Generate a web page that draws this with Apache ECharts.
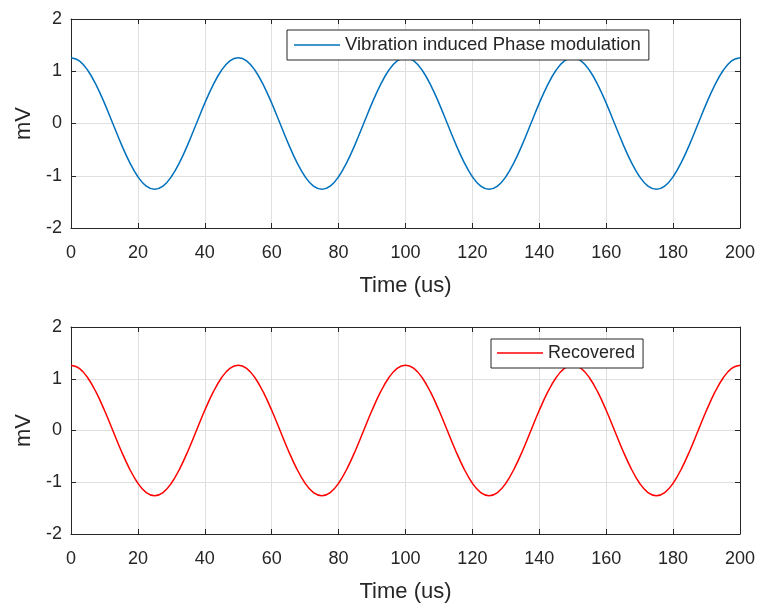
<!DOCTYPE html>
<html>
<head>
<meta charset="utf-8">
<script src="https://cdn.jsdelivr.net/npm/echarts@6/dist/echarts.min.js"></script>
<style>
html,body{margin:0;padding:0;background:#fff;}
#chart{width:758px;height:604px;}
</style>
</head>
<body>
<div id="chart"></div>
<script>
var timeUs = [0,2.5,5,7.5,10,12.5,15,17.5,20,22.5,25,27.5,30,32.5,35,37.5,40,42.5,45,47.5,
  50,52.5,55,57.5,60,62.5,65,67.5,70,72.5,75,77.5,80,82.5,85,87.5,90,92.5,95,97.5,
  100,102.5,105,107.5,110,112.5,115,117.5,120,122.5,125,127.5,130,132.5,135,137.5,140,142.5,145,147.5,
  150,152.5,155,157.5,160,162.5,165,167.5,170,172.5,175,177.5,180,182.5,185,187.5,190,192.5,195,197.5,200];

var vibration = [1.26,1.20,1.02,0.74,0.39,0.00,-0.39,-0.74,-1.02,-1.20,-1.26,-1.20,-1.02,-0.74,-0.39,0.00,0.39,0.74,1.02,1.20,
  1.26,1.20,1.02,0.74,0.39,0.00,-0.39,-0.74,-1.02,-1.20,-1.26,-1.20,-1.02,-0.74,-0.39,0.00,0.39,0.74,1.02,1.20,
  1.26,1.20,1.02,0.74,0.39,0.00,-0.39,-0.74,-1.02,-1.20,-1.26,-1.20,-1.02,-0.74,-0.39,0.00,0.39,0.74,1.02,1.20,
  1.26,1.20,1.02,0.74,0.39,0.00,-0.39,-0.74,-1.02,-1.20,-1.26,-1.20,-1.02,-0.74,-0.39,0.00,0.39,0.74,1.02,1.20,
  1.26];

var recovered = [1.26,1.20,1.02,0.74,0.39,0.00,-0.39,-0.74,-1.02,-1.20,-1.26,-1.20,-1.02,-0.74,-0.39,0.00,0.39,0.74,1.02,1.20,
  1.26,1.20,1.02,0.74,0.39,0.00,-0.39,-0.74,-1.02,-1.20,-1.26,-1.20,-1.02,-0.74,-0.39,0.00,0.39,0.74,1.02,1.20,
  1.26,1.20,1.02,0.74,0.39,0.00,-0.39,-0.74,-1.02,-1.20,-1.26,-1.20,-1.02,-0.74,-0.39,0.00,0.39,0.74,1.02,1.20,
  1.26,1.20,1.02,0.74,0.39,0.00,-0.39,-0.74,-1.02,-1.20,-1.26,-1.20,-1.02,-0.74,-0.39,0.00,0.39,0.74,1.02,1.20,
  1.26];

var xTicks = [0,20,40,60,80,100,120,140,160,180,200];
var yTicks = [-2,-1,0,1,2];
var seriesNames = ['Vibration induced Phase modulation', 'Recovered'];
var xName = 'Time (us)';
var yName = 'mV';

function pairs(xs, ys){ return xs.map(function(x,i){ return [x, ys[i]]; }); }

var FONT = '"Liberation Sans", Arial, Helvetica, sans-serif';
var DARK = '#262626';
var GRIDC = '#dfdfdf';

function xAx(gi, primary){
  return {
    type:'value', gridIndex:gi, position: primary ? 'bottom' : 'top',
    min:xTicks[0], max:xTicks[xTicks.length-1], interval:xTicks[1]-xTicks[0],
    name: primary ? xName : '', nameLocation:'middle', nameGap:47,
    nameTextStyle:{fontFamily:FONT, fontSize:22, color:DARK},
    axisLine:{show:true, onZero:false, lineStyle:{color:DARK, width:1}},
    axisTick:{show:true, inside:true, length:5, lineStyle:{color:DARK}},
    axisLabel:{show:primary, margin:16, fontFamily:FONT, fontSize:18, color:DARK},
    splitLine:{show:primary, lineStyle:{color:GRIDC, width:1}}
  };
}
function yAx(gi, primary){
  return {
    type:'value', gridIndex:gi, position: primary ? 'left' : 'right',
    min:yTicks[0], max:yTicks[yTicks.length-1], interval:yTicks[1]-yTicks[0],
    name: primary ? yName : '', nameLocation:'middle', nameGap:33, nameRotate:90,
    nameTextStyle:{fontFamily:FONT, fontSize:22, color:DARK},
    axisLine:{show:true, onZero:false, lineStyle:{color:DARK, width:1}},
    axisTick:{show:true, inside:true, length:5, lineStyle:{color:DARK}},
    axisLabel:{show:primary, margin:9, fontFamily:FONT, fontSize:18, color:DARK},
    splitLine:{show:primary, lineStyle:{color:GRIDC, width:1}}
  };
}

function legendOpt(name, left, top, fontSize, pad){
  return {
    data:[name], left:left, top:top, orient:'horizontal', icon:'rect',
    backgroundColor:'#fff', borderColor:DARK, borderWidth:1, borderRadius:0,
    padding:pad, itemWidth:46, itemHeight:1.5, itemGap:0,
    textStyle:{fontFamily:FONT, fontSize:fontSize, color:DARK, lineHeight:22}
  };
}

var chart = echarts.init(document.getElementById('chart'), null, {renderer:'canvas'});
chart.setOption({
  animation:false,
  backgroundColor:'#ffffff',
  grid:[
    {left:71, top:19, width:671, height:209, containLabel:false},
    {left:71, top:327, width:671, height:208, containLabel:false}
  ],
  xAxis:[xAx(0,true), xAx(0,false), xAx(1,true), xAx(1,false)],
  yAxis:[yAx(0,true), yAx(0,false), yAx(1,true), yAx(1,false)],
  legend:[
    legendOpt(seriesNames[0], 287, 30, 18.5, [4,8,4,7]),
    legendOpt(seriesNames[1], 491, 339, 18, [3,8,4,6])
  ],
  series:[
    {name:seriesNames[0], type:'line', xAxisIndex:0, yAxisIndex:0,
     data:pairs(timeUs, vibration), smooth:0.4, showSymbol:false, symbol:'none',
     lineStyle:{color:'#0072BD', width:1.5}, itemStyle:{color:'#0072BD'}},
    {name:seriesNames[1], type:'line', xAxisIndex:2, yAxisIndex:2,
     data:pairs(timeUs, recovered), smooth:0.4, showSymbol:false, symbol:'none',
     lineStyle:{color:'#FF0000', width:1.5}, itemStyle:{color:'#FF0000'}}
  ]
});
</script>
</body>
</html>
